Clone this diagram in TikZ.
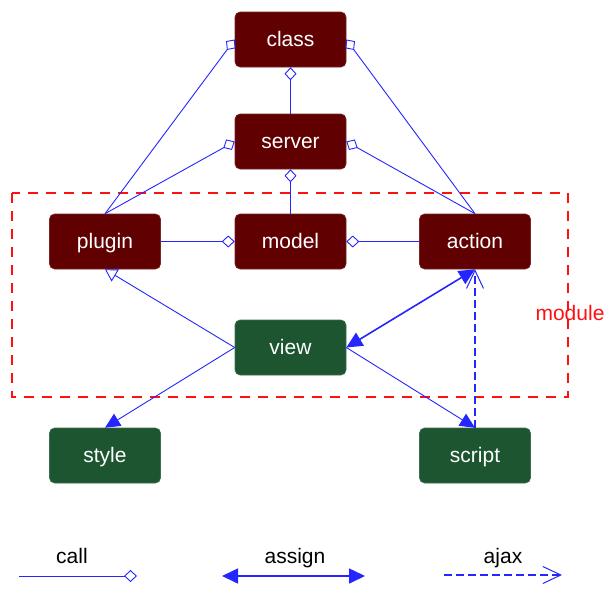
\documentclass[tikz,border=0pt]{standalone}
\usepackage{fontspec}
\setmainfont{Liberation Sans}
\usetikzlibrary{arrows.meta}
\definecolor{dred}{HTML}{600000}
\definecolor{dgreen}{HTML}{1C5530}
\definecolor{lblue}{HTML}{2525FF}
\definecolor{mred}{HTML}{FF1010}
\begin{document}
\begin{tikzpicture}[x=1pt,y=-1pt,
  box/.style={rounded corners=5pt, minimum width=111pt, minimum height=55pt,
    inner sep=0pt, text=white, font=\fontsize{21}{24}\selectfont,
    text height=16pt, text depth=2pt,
    draw=#1!85!white, line width=0.6pt, fill=#1},
  lbl/.style={inner sep=0pt, text=black, font=\fontsize{21}{24}\selectfont,
    text height=16pt, text depth=2pt},
  call/.style={draw=lblue, line width=0.9pt, -{Diamond[open,length=13pt,width=12pt,line width=0.9pt]}},
  inherit/.style={draw=lblue, line width=0.9pt, -{Triangle[open,length=12pt,width=14pt,line width=0.9pt]}},
  uses/.style={draw=lblue, line width=0.9pt, -{Triangle[length=15pt,width=14pt]}},
  assign/.style={draw=lblue, line width=1.6pt, {Triangle[length=16pt,width=15pt]}-{Triangle[length=16pt,width=15pt]}},
  ajax/.style={dash pattern=on 8pt off 4pt, color=lblue, line width=1.2pt, -{Straight Barb[length=18pt,width=17pt,line width=1pt]}},
  modbox/.style={dash pattern=on 10pt off 8pt, color=mred, line width=1.3pt}
]
\useasboundingbox (0,0) rectangle (613,597);

% module frame
\draw[modbox] (12,193) rectangle (568,397);
\node[lbl, text=mred] (module) at (570,313) {module};

% nodes
\node[box=dred] (class)  at (290.5,39.5)  {class};
\node[box=dred] (server) at (290.5,141.5) {server};
\node[box=dred] (plugin) at (105,241.5)   {plugin};
\node[box=dred] (model)  at (290.5,241.5) {model};
\node[box=dred] (action) at (475,241.5)   {action};
\node[box=dgreen] (view)   at (290.5,347.5) {view};
\node[box=dgreen] (style)  at (105,455.5)   {style};
\node[box=dgreen] (script) at (475,455.5)   {script};

% connectors
\draw[call] (server.north) -- (class.south);
\draw[call] (model.north) -- (server.south);
\draw[call] (plugin.north) -- (class.west);
\draw[call] (plugin.north) -- (server.west);
\draw[call] (action.north) -- (class.east);
\draw[call] (action.north) -- (server.east);
\draw[call] (plugin.east) -- (model.west);
\draw[call] (action.west) -- (model.east);
\draw[inherit] (view.west) -- (plugin.south);
\draw[uses] (view.west) -- (style.north);
\draw[uses] (view.east) -- (script.north);
\draw[assign] (view.east) -- (action.south);
\draw[ajax] (script.north) -- (action.south);

% legend
\node[lbl] (lcall) at (72,556) {call};
\coordinate (c1) at (19,576);
\coordinate (c2) at (137,576);
\draw[call] (c1) -- (c2);
\node[lbl] (lassign) at (295,556) {assign};
\coordinate (a1) at (222,576);
\coordinate (a2) at (365,576);
\draw[assign] (a1) -- (a2);
\node[lbl] (lajax) at (503,556) {ajax};
\coordinate (j1) at (444,575);
\coordinate (j2) at (562,575);
\draw[ajax] (j1) -- (j2);
\end{tikzpicture}
\end{document}
